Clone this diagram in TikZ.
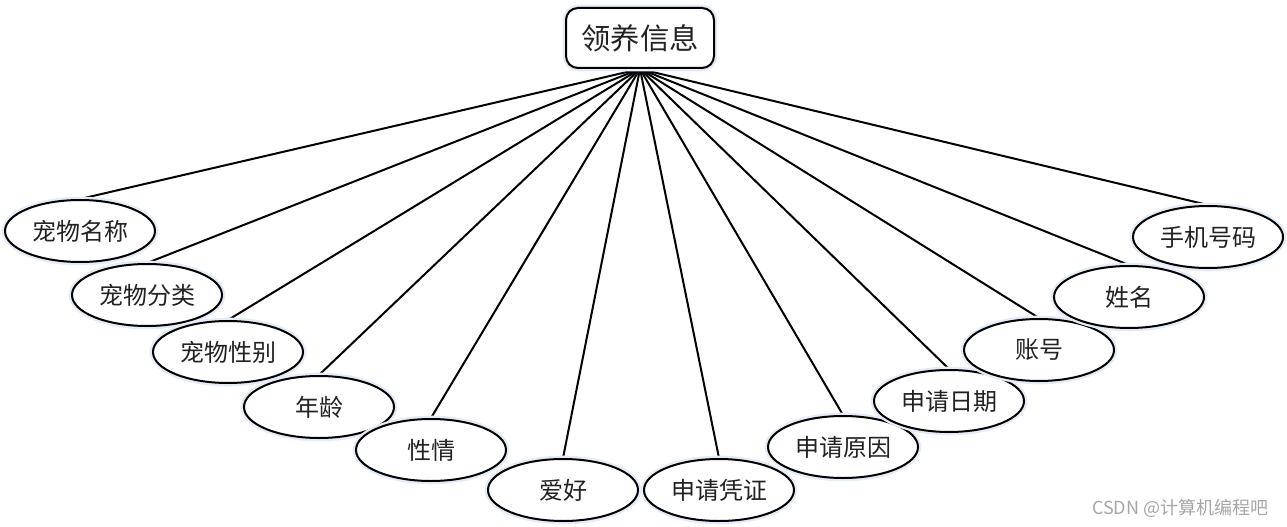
\documentclass[tikz,border=0pt]{standalone}
\usepackage{fontspec}
\setmainfont{Noto Sans CJK SC}
\usetikzlibrary{shapes.geometric,backgrounds}
\definecolor{txt}{HTML}{222222}
\definecolor{glow}{HTML}{E3ECF7}
\tikzset{
  attr/.style={ellipse, draw=black, line width=1.5pt, fill=white,
    minimum width=112.5pt, minimum height=46.5pt, inner sep=0pt,
    font=\fontsize{18pt}{21pt}\selectfont, text=txt,
    preaction={draw=glow, line width=5pt}},
  entity/.style={rectangle, rounded corners=9pt, draw=black, line width=1.5pt, fill=white,
    minimum width=111pt, minimum height=45pt, inner sep=0pt,
    font=\fontsize{22pt}{25pt}\selectfont, text=txt,
    preaction={draw=glow, line width=5pt}},
  link/.style={draw=black, line width=1.5pt}
}
\begin{document}
\begin{tikzpicture}[x=0.75pt,y=-0.75pt]
\useasboundingbox (0,0) rectangle (1287,527);
\node[attr] (a1) at (80,231) {宠物名称};
\node[attr] (a2) at (147,295) {宠物分类};
\node[attr] (a3) at (228,352) {宠物性别};
\node[attr] (a4) at (319,407) {年龄};
\node[attr] (a5) at (431,450) {性情};
\node[attr] (a6) at (563,490) {爱好};
\node[attr] (a7) at (719,490) {申请凭证};
\node[attr] (a8) at (843,447) {申请原因};
\node[attr] (a9) at (949,401) {申请日期};
\node[attr] (a10) at (1039,350) {账号};
\node[attr] (a11) at (1129,297) {姓名};
\node[attr] (a12) at (1208,237) {手机号码};
\node[entity] (top) at (640,38) {领养信息};
\begin{scope}[on background layer]
\foreach \i in {1,...,12} {\draw[link] (top.south) -- (a\i.north);}
\end{scope}
\node[text=gray!70, font=\fontsize{13.5pt}{16pt}\selectfont, anchor=east] (wm) at (1273,508) {CSDN @计算机编程吧};
\end{tikzpicture}
\end{document}
